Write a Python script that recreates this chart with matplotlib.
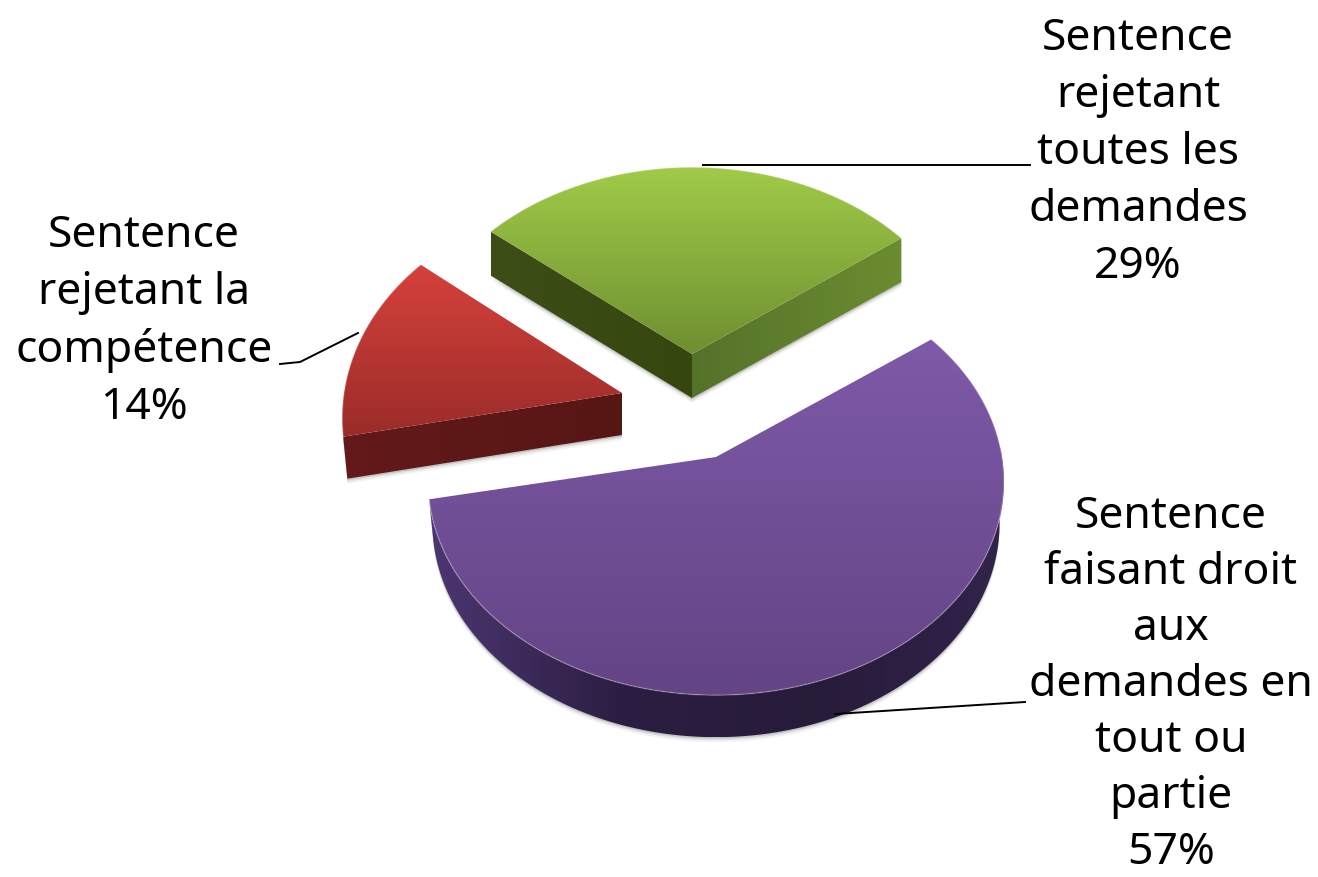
import numpy as np
import matplotlib
matplotlib.use("Agg")
import matplotlib.pyplot as plt
from matplotlib.colors import LinearSegmentedColormap
from matplotlib.patches import Polygon

# --- data ---
names = ["Sentence\nfaisant droit\naux\ndemandes en\ntout ou\npartie",
         "Sentence\nrejetant\ntoutes les\ndemandes",
         "Sentence\nrejetant la\ncompétence"]
shares = [57, 29, 14]

# --- look of each slice: apex on screen, radius, depth ---
START = 36.5
K = 0.114
inset = [0.985, 1.0, 0.985]
apex = [(716, 457), (692, 354), (622, 393)]
rx = [286, 278, 278]
ry = [211, 208, 218]
depth = [42, 44, 42]
top_cols = [("#7f5aa8", "#634485"), ("#a0cb48", "#6f8f30"), ("#d6413c", "#9a2c29")]
side_cols = [("#4c3672", "#2c1e42", "#271b3a", "#32234a"),
             ("#3d4e16", "#35460f", "#55722a", "#6c8c30"),
             ("#64191a", "#561614", "#561614", "#641a16")]
label_pos = [(1171, 685), (1138, 153), (144, 322)]
label_spacing = [1.36, 1.395, 1.395]
leaders = [[(835, 714), (1025, 702)],
           [(703, 165), (1030, 165)],
           [(358, 333), (300, 362), (280, 364)]]


def project(i, theta):
    X, Y = np.cos(theta), np.sin(theta)
    s = 1 / (1 + K * Y)
    return apex[i][0] + rx[i] * X * s, apex[i][1] - ry[i] * Y * s


def grad(ax, poly, cols, horizontal=False):
    # gradient image clipped to a polygon
    cmap = LinearSegmentedColormap.from_list("g", cols)
    x0, y0 = poly.min(axis=0)
    x1, y1 = poly.max(axis=0)
    g = np.linspace(0, 1, 256)
    g = g.reshape(1, -1) if horizontal else g.reshape(-1, 1)
    im = ax.imshow(g, cmap=cmap, extent=(x0, x1, y1, y0), aspect="auto", zorder=2, interpolation="bilinear")
    patch = Polygon(poly, closed=True, transform=ax.transData, fc="none", ec="none")
    ax.add_patch(patch)
    im.set_clip_path(patch)


def lower(i, pts):
    # bottom ring of the slice, a bit narrower than the top
    pts = np.atleast_2d(pts).astype(float)
    out = pts.copy()
    out[:, 0] = apex[i][0] + (pts[:, 0] - apex[i][0]) * inset[i]
    out[:, 1] = pts[:, 1] + depth[i]
    return out


def shadow(ax, poly):
    for off, alpha in [(5, 0.05), (3, 0.08), (1.5, 0.12)]:
        ax.add_patch(Polygon(poly + np.array([0, off]), closed=True, fc="black", ec="none", alpha=alpha, zorder=1))


fig = plt.figure(figsize=(13.18, 8.77), dpi=100)
ax = fig.add_axes([0, 0, 1, 1])

g_deg = shares[1] * 3.6
r_deg = shares[2] * 3.6
# purple goes clockwise from START, the others run counter-clockwise back to it
spans = [(START, START - shares[0] * 3.6), (START + g_deg, START),
         (START + g_deg + r_deg, START + g_deg)]

for i in [1, 2, 0]:
    a, b = np.radians(spans[i][0]), np.radians(spans[i][1])
    t = np.linspace(a, b, 200)
    px, py = project(i, t)
    arc = np.column_stack([px, py])
    top = np.vstack([[apex[i]], arc])
    ap = np.array(apex[i], dtype=float)

    if i == 0:
        # outer wall: only the part of the arc facing the viewer
        front = np.sin(t) < 0.05
        wall = np.vstack([arc[front], lower(i, arc[front])[::-1]])
        shadow(ax, wall)
        grad(ax, wall, side_cols[i], horizontal=True)
    elif i == 1:
        # green shows its two cut faces instead
        left = np.vstack([arc[0], ap, lower(i, ap), lower(i, arc[0])])
        right = np.vstack([ap, arc[-1], lower(i, arc[-1]), lower(i, ap)])
        shadow(ax, np.vstack([left, right]))
        grad(ax, left, side_cols[i][:2], horizontal=True)
        grad(ax, right, side_cols[i][2:], horizontal=True)
    else:
        # red: bottom cut face from the far-left end to the apex
        low = np.vstack([arc[0], ap, lower(i, ap), lower(i, arc[0])])
        shadow(ax, low)
        grad(ax, low, side_cols[i][:2], horizontal=True)

    grad(ax, top, top_cols[i])
    ax.plot(arc[:, 0], arc[:, 1], color="#ffffff", alpha=0.25, lw=1, zorder=3)

for i, name in enumerate(names):
    ax.text(label_pos[i][0], label_pos[i][1], f"{name}\n{shares[i]}%", ha="center", va="center",
            fontsize=32, family="Noto Sans", color="black", linespacing=label_spacing[i], zorder=5)
    xs, ys = zip(*leaders[i])
    ax.plot(xs, ys, color="black", lw=1.4, zorder=4)

ax.set_xlim(0, 1318)
ax.set_ylim(877, 0)
ax.axis("off")
fig.savefig("out.png", dpi=100)
